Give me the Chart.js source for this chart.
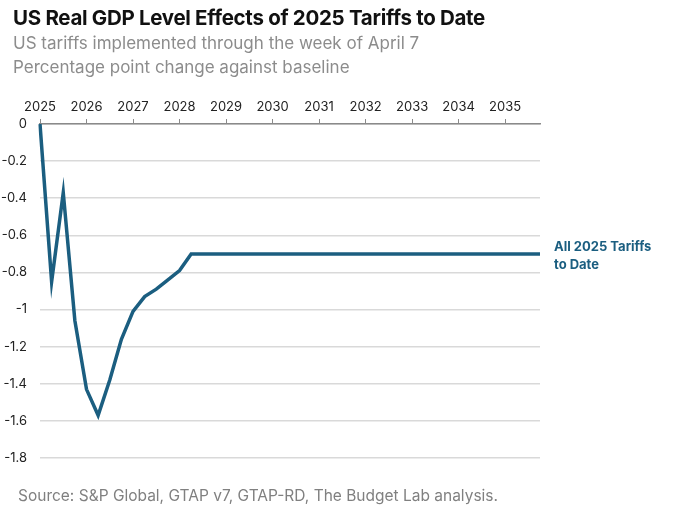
<!DOCTYPE html>
<html lang="en">
<head>
    <meta charset="UTF-8">
    <title>US Real GDP Level Effects of 2025 Tariffs to Date</title>
    <style>
        body {
            margin: 0;
            padding: 0;
            background-color: #fff;
            font-family: Inter, "Noto Sans", sans-serif;
        }
        .wrap {
            position: relative;
            width: 680px;
            height: 510px;
        }
        .title {
            position: absolute;
            left: 13px;
            top: 5px;
            font-size: 20.5px;
            font-weight: 700;
            color: #111;
            letter-spacing: -0.3px;
        }
        .sub {
            position: absolute;
            left: 13px;
            font-size: 17px;
            color: #8c8c8c;
        }
        .source {
            position: absolute;
            left: 18px;
            top: 486px;
            font-size: 15.5px;
            color: #808080;
        }
        .chart-box {
            position: absolute;
            left: 0;
            top: 0;
            width: 680px;
            height: 510px;
        }
    </style>
    <script src="https://cdn.jsdelivr.net/npm/chart.js"></script>
</head>
<body>
    <div class="wrap">
        <div class="chart-box"><canvas id="gdpChart" width="680" height="510"></canvas></div>
        <div class="title">US Real GDP Level Effects of 2025 Tariffs to Date</div>
        <div class="sub" style="top:33px;">US tariffs implemented through the week of April 7</div>
        <div class="sub" style="top:57px;">Percentage point change against baseline</div>
        <div class="source">Source: S&amp;P Global, GTAP v7, GTAP-RD, The Budget Lab analysis.</div>
    </div>

    <script>
        // quarterly, 2025 Q1 .. 2035 Q4
        const years = ['2025', '2026', '2027', '2028', '2029', '2030', '2031', '2032', '2033', '2034', '2035'];
        const quarters = years.flatMap(y => [y, y + ' Q2', y + ' Q3', y + ' Q4']);

        const gdpEffect = [
            0, -0.85, -0.37, -1.06,
            -1.43, -1.57, -1.38, -1.16,
            -1.01, -0.93, -0.89, -0.84,
            -0.79, -0.70, -0.70, -0.70,
            -0.70, -0.70, -0.70, -0.70,
            -0.70, -0.70, -0.70, -0.70,
            -0.70, -0.70, -0.70, -0.70,
            -0.70, -0.70, -0.70, -0.70,
            -0.70, -0.70, -0.70, -0.70,
            -0.70, -0.70, -0.70, -0.70,
            -0.70, -0.70, -0.70, -0.70
        ];

        const seriesName = ['All 2025 Tariffs', 'to Date'];
        const lineColor = '#1b5e80';

        // label at the end of the line
        const endLabel = {
            id: 'endLabel',
            afterDatasetsDraw(chart) {
                const ctx = chart.ctx;
                const meta = chart.getDatasetMeta(0);
                const last = meta.data[meta.data.length - 1];
                ctx.save();
                ctx.font = 'bold 13px Inter, "Noto Sans", sans-serif';
                ctx.fillStyle = lineColor;
                ctx.textBaseline = 'middle';
                ctx.fillText(seriesName[0], chart.chartArea.right + 14, last.y - 7);
                ctx.fillText(seriesName[1], chart.chartArea.right + 14, last.y + 11);
                ctx.restore();
            }
        };

        new Chart(document.getElementById('gdpChart'), {
            type: 'line',
            data: {
                labels: quarters,
                datasets: [{
                    label: seriesName.join(' '),
                    data: gdpEffect,
                    borderColor: lineColor,
                    borderWidth: 3.5,
                    pointRadius: 0,
                    tension: 0,
                    fill: false
                }]
            },
            options: {
                responsive: false,
                animation: false,
                layout: {
                    padding: { top: 90, bottom: 52, right: 140, left: 0 }
                },
                plugins: {
                    legend: { display: false },
                    tooltip: { enabled: false }
                },
                scales: {
                    x: {
                        position: 'top',
                        offset: false,
                        afterFit: s => { s.height = 34; },
                        grid: {
                            drawOnChartArea: false,
                            drawTicks: true,
                            tickLength: 5,
                            color: '#8a8a8a'
                        },
                        border: { color: '#8a8a8a', width: 1.5 },
                        ticks: {
                            autoSkip: false,
                            maxRotation: 0,
                            padding: 4,
                            color: '#222',
                            font: { size: 13, family: 'Inter' },
                            callback: function (v, i) {
                                return i % 4 === 0 ? years[i / 4] : null;
                            }
                        }
                    },
                    y: {
                        min: -1.8,
                        max: 0,
                        afterFit: s => { s.width = 40; },
                        grid: {
                            color: '#d9d9d9',
                            lineWidth: 1.5,
                            drawTicks: false
                        },
                        border: { display: false },
                        ticks: {
                            stepSize: 0.2,
                            padding: 13,
                            color: '#222',
                            font: { size: 13, family: 'Inter' },
                            callback: v => String(Math.abs(v) < 1e-9 ? 0 : +v.toFixed(1))
                        }
                    }
                }
            },
            plugins: [endLabel]
        });
    </script>
</body>
</html>
